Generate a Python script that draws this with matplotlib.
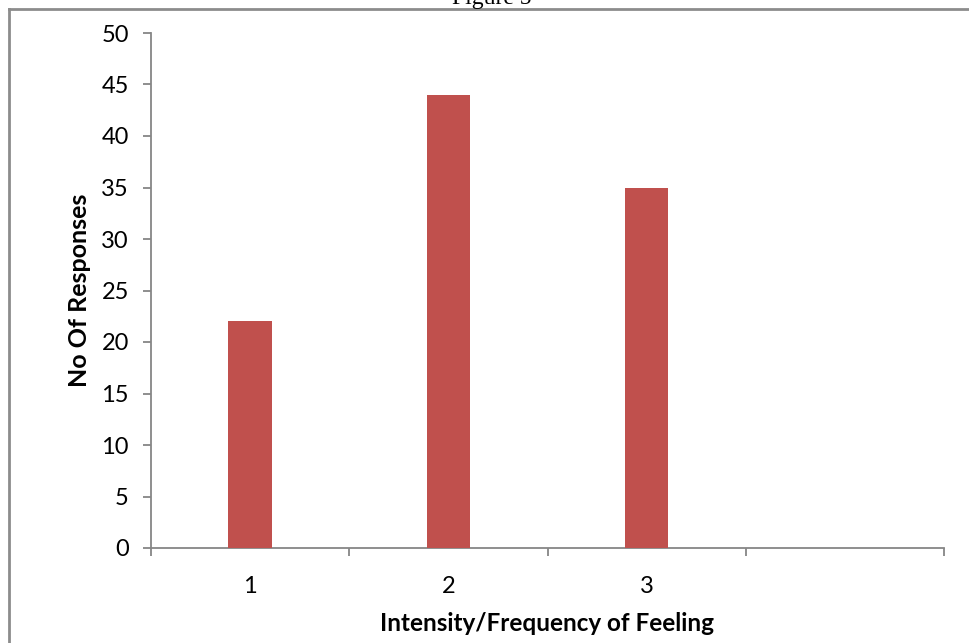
import matplotlib.pyplot as plt
from matplotlib.lines import Line2D

categories = ['1', '2', '3', '']
responses = [22, 44, 35, 0]

bar_color = '#C0504D'
axis_color = '#868686'

plt.rcParams['font.family'] = ['Lato', 'DejaVu Sans']

fig = plt.figure(figsize=(9.69, 6.43), dpi=100)
ax = fig.add_axes([151 / 969, 1 - 548 / 643, 793 / 969, 515 / 643])

positions = list(range(len(categories)))
ax.bar(positions[:3], responses[:3], width=0.22, color=bar_color, zorder=3)

ax.set_xlim(-0.5, len(categories) - 0.5)
ax.set_ylim(0, 50)
ax.set_yticks(range(0, 51, 5))

# category labels in the middle, tick marks on the boundaries
ax.set_xticks([p - 0.5 for p in range(len(categories) + 1)])
ax.set_xticklabels([])
ax.set_xticks(positions, minor=True)
ax.set_xticklabels(categories, minor=True)
ax.tick_params(axis='x', which='minor', length=0, pad=20, labelsize=17)
ax.tick_params(axis='x', which='major', length=6, width=1.3, color=axis_color, direction='out')
ax.tick_params(axis='y', length=6, width=1.3, color=axis_color, labelsize=17, pad=10)

for side in ['top', 'right']:
    ax.spines[side].set_visible(False)
for side in ['left', 'bottom']:
    ax.spines[side].set_color(axis_color)
    ax.spines[side].set_linewidth(1.3)

ax.set_ylabel('No Of Responses', fontsize=18, fontweight='bold', labelpad=7)
ax.set_xlabel('Intensity/Frequency of Feeling', fontsize=17.5, fontweight='bold', labelpad=11)

# frame of the surrounding chart area (only top and left show)
fig.add_artist(Line2D([9 / 969, 9 / 969], [0, 1 - 9 / 643], transform=fig.transFigure,
                      color='#8c8c8c', linewidth=2))
fig.add_artist(Line2D([9 / 969, 1], [1 - 9 / 643, 1 - 9 / 643], transform=fig.transFigure,
                      color='#8c8c8c', linewidth=2))

fig.text(492 / 969, 1 - 4 / 643, 'Figure 5', ha='center', va='baseline',
         fontsize=17, family='Liberation Serif')

fig.savefig('out.png', dpi=100)
